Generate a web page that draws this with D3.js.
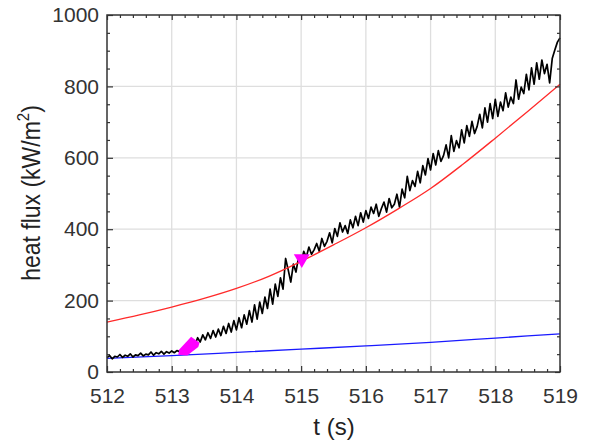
<!DOCTYPE html>
<html>
<head>
<meta charset="utf-8">
<script src="https://cdn.jsdelivr.net/npm/d3@7"></script>
<style>
  html, body { margin: 0; padding: 0; background: #fff; }
  svg { display: block; }
  text { font-family: "Liberation Sans", Arial, sans-serif; }
</style>
</head>
<body>
<svg id="chart" width="590" height="448"></svg>
<script>
// ---- data ----
const xTicks = [512, 513, 514, 515, 516, 517, 518, 519];
const yTicks = [0, 200, 400, 600, 800, 1000];

// measured heat flux (black), sampled every 0.04 s from 512 s
const fluxStart = 512;
const fluxStep = 0.04;
const flux = [
  40, 46, 37, 44, 42, 49, 41, 47, 44, 51, 42, 48, 46, 53, 45, 50, 48, 56, 47, 54, 51, 58, 50, 57, 53,
  59, 54, 60, 57, 64, 62, 72, 70, 80, 76, 96, 84, 104, 90, 110, 94, 116, 98, 120, 102, 128, 108, 136, 112, 144,
  118, 152, 124, 160, 134, 172, 140, 188, 148, 196, 164, 210, 178, 232, 190, 246, 212, 264, 232, 318, 286, 252, 302, 280, 322,
  306, 338, 322, 350, 330, 342, 360, 338, 374, 352, 366, 390, 362, 402, 380, 418, 392, 410, 388, 426, 404, 436, 410, 446, 420,
  452, 430, 462, 444, 470, 436, 458, 476, 448, 486, 460, 470, 498, 462, 512, 488, 548, 508, 536, 520, 562, 530, 578, 552, 598,
  566, 612, 580, 620, 590, 606, 636, 600, 662, 618, 648, 628, 678, 642, 690, 660, 702, 668, 688, 722, 684, 740, 700, 752, 710,
  764, 716, 756, 732, 782, 742, 770, 752, 818, 764, 798, 780, 834, 790, 852, 806, 866, 820, 874, 836, 862, 810, 878, 902, 924,
  936
];

// model curve (red)
const redT = [512, 512.5, 513, 513.5, 514, 514.5, 515, 515.5, 516, 516.5, 517, 517.5, 518, 518.5, 519];
const redV = [140, 160, 182, 206, 234, 268, 310, 356, 404, 457, 514, 582, 655, 730, 806];

// lower curve (blue)
const blueT = [512, 513, 514, 515, 516, 517, 518, 519];
const blueV = [38, 46, 55, 64, 73, 83, 95, 107];

// magenta markers
const diamondT = [513.10, 513.12, 513.30, 513.43, 513.41, 513.24];
const diamondV = [48, 64, 99, 82, 70, 46];
const triT = 515.01;
const triV = 317;

// ---- layout ----
const svg = d3.select("#chart");
const L = 107, R = 560, T = 15, B = 372;
const x = d3.scaleLinear().domain([512, 519]).range([L, R]);
const y = d3.scaleLinear().domain([0, 1000]).range([B, T]);

const xMinor = d3.range(0, 36).map(i => 512 + i * 0.2).filter(v => Math.abs(v - Math.round(v)) > 1e-6);
const yMinor = d3.range(0, 21).map(i => i * 50).filter(v => v % 200 !== 0);

// gridlines
const gridX = xTicks.slice(1, -1), gridY = yTicks.slice(1, -1);
svg.append("g").selectAll("line").data(gridX).join("line")
  .attr("x1", d => x(d)).attr("x2", d => x(d)).attr("y1", T).attr("y2", B)
  .attr("stroke", "#dedede").attr("stroke-width", 1.3);
svg.append("g").selectAll("line").data(gridY).join("line")
  .attr("y1", d => y(d)).attr("y2", d => y(d)).attr("x1", L).attr("x2", R)
  .attr("stroke", "#dedede").attr("stroke-width", 1.3);

const plot = svg.append("g");

// blue
plot.append("path")
  .datum(blueT.map((t, i) => [t, blueV[i]]))
  .attr("fill", "none").attr("stroke", "#1a1aff").attr("stroke-width", 1.3)
  .attr("d", d3.line().x(d => x(d[0])).y(d => y(d[1])).curve(d3.curveMonotoneX));

// black
plot.append("path")
  .datum(flux.map((v, i) => [fluxStart + i * fluxStep, v]))
  .attr("fill", "none").attr("stroke", "#000").attr("stroke-width", 1.7)
  .attr("stroke-linejoin", "round")
  .attr("d", d3.line().x(d => x(d[0])).y(d => y(d[1])));

// red
plot.append("path")
  .datum(redT.map((t, i) => [t, redV[i]]))
  .attr("fill", "none").attr("stroke", "#ff2a2a").attr("stroke-width", 1.3)
  .attr("d", d3.line().x(d => x(d[0])).y(d => y(d[1])).curve(d3.curveMonotoneX));

// magenta markers
plot.append("polygon")
  .attr("points", diamondT.map((t, i) => x(t) + "," + y(diamondV[i])).join(" "))
  .attr("fill", "#ff00ff");
plot.append("path")
  .attr("d", d3.symbol().type(d3.symbolTriangle).size(110)())
  .attr("transform", `translate(${x(triT)},${y(triV)}) rotate(180)`)
  .attr("fill", "#ff00ff");

// ticks (inward) on four sides
function ticks(axisFn, scale, vals, size, tr) {
  const g = svg.append("g").attr("transform", tr)
    .call(axisFn(scale).tickValues(vals).tickSize(-size).tickFormat(""));
  g.select(".domain").remove();
  g.selectAll("line").attr("stroke", "#333").attr("stroke-width", 1.2);
}
ticks(d3.axisBottom, x, xMinor, 3, `translate(0,${B})`);
ticks(d3.axisBottom, x, xTicks, 6, `translate(0,${B})`);
ticks(d3.axisTop, x, xMinor, 3, `translate(0,${T})`);
ticks(d3.axisTop, x, xTicks, 5, `translate(0,${T})`);
ticks(d3.axisLeft, y, yMinor, 3, `translate(${L},0)`);
ticks(d3.axisLeft, y, yTicks, 6, `translate(${L},0)`);
ticks(d3.axisRight, y, yMinor, 3, `translate(${R},0)`);
ticks(d3.axisRight, y, yTicks, 5, `translate(${R},0)`);

// frame
svg.append("rect").attr("x", L).attr("y", T).attr("width", R - L).attr("height", B - T)
  .attr("fill", "none").attr("stroke", "#333").attr("stroke-width", 1.5);

// tick labels
const xl = svg.append("g").attr("transform", `translate(0,${B})`)
  .call(d3.axisBottom(x).tickValues(xTicks).tickSize(0).tickPadding(16).tickFormat(d3.format("d")));
xl.select(".domain").remove();
xl.selectAll("text").attr("font-size", 21).attr("fill", "#333")
  .attr("font-family", "'Liberation Sans', Arial, sans-serif");

const yl = svg.append("g").attr("transform", `translate(${L},0)`)
  .call(d3.axisLeft(y).tickValues(yTicks).tickSize(0).tickPadding(8).tickFormat(d3.format("d")));
yl.select(".domain").remove();
yl.selectAll("text").attr("font-size", 21).attr("fill", "#333")
  .attr("font-family", "'Liberation Sans', Arial, sans-serif");

// axis titles
svg.append("text").attr("x", 334).attr("y", 435).attr("text-anchor", "middle")
  .attr("font-size", 24).attr("fill", "#222").text("t (s)");

const yt = svg.append("text").attr("transform", "translate(40,193) rotate(-90) scale(1,1.15)")
  .attr("text-anchor", "middle").attr("font-size", 23).attr("fill", "#222");
yt.append("tspan").text("heat flux (kW/m");
yt.append("tspan").attr("font-size", 15).attr("dy", -10).text("2");
yt.append("tspan").attr("dy", 10).text(")");
</script>
</body>
</html>
